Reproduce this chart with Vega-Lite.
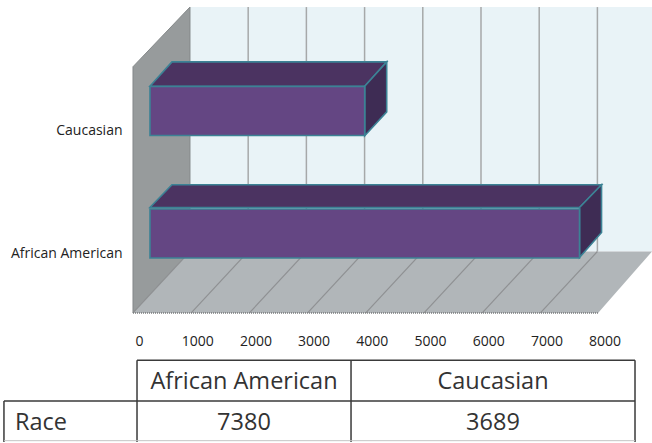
{
  "$schema": "https://vega.github.io/schema/vega-lite/v6.json",
  "width": 652,
  "height": 443,
  "padding": 0,
  "autosize": {"type": "fit", "contains": "padding"},
  "background": "#ffffff",
  "config": {"view": {"stroke": null}, "font": "Open Sans"},
  "datasets": {
    "race": [
      {"race": "Caucasian", "count": 3689},
      {"race": "African American", "count": 7380}
    ],
    "wall": [{"x": 876, "x2": 8814, "h": 43.1, "h2": 98.4}],
    "sideWall": [
      {"x": -103, "h": 29.2, "h2": 84.9},
      {"x": 876, "h": 43.1, "h2": 98.4}
    ],
    "floor": [
      {"h": 29.2, "x": -103, "x2": 7887},
      {"h": 43.1, "x": 876, "x2": 8814}
    ],
    "grid": [
      {"tick": 0, "front": -103, "back": 876, "h": 29.2, "h2": 43.1, "top": 98.4},
      {"tick": 1000, "front": 897, "back": 1876, "h": 29.2, "h2": 43.1, "top": 98.4},
      {"tick": 2000, "front": 1897, "back": 2876, "h": 29.2, "h2": 43.1, "top": 98.4},
      {"tick": 3000, "front": 2897, "back": 3876, "h": 29.2, "h2": 43.1, "top": 98.4},
      {"tick": 4000, "front": 3897, "back": 4876, "h": 29.2, "h2": 43.1, "top": 98.4},
      {"tick": 5000, "front": 4897, "back": 5876, "h": 29.2, "h2": 43.1, "top": 98.4},
      {"tick": 6000, "front": 5897, "back": 6876, "h": 29.2, "h2": 43.1, "top": 98.4},
      {"tick": 7000, "front": 6897, "back": 7876, "h": 29.2, "h2": 43.1, "top": 98.4}
    ],
    "frontEdge": [{"x": -103, "x2": 7887, "h": 29.2}],
    "barTops": [
      {"race": "Caucasian", "h": 80.5, "start": 189, "end": 3878},
      {"race": "Caucasian", "h": 86.0, "start": 567, "end": 4256},
      {"race": "African American", "h": 53.05, "start": 189, "end": 7569},
      {"race": "African American", "h": 58.2, "start": 567, "end": 7947}
    ],
    "barSides": [
      {"race": "Caucasian", "x": 3878, "h": 69.3, "h2": 80.5},
      {"race": "Caucasian", "x": 4256, "h": 74.7, "h2": 86.0},
      {"race": "African American", "x": 7569, "h": 41.76, "h2": 53.05},
      {"race": "African American", "x": 7947, "h": 47.4, "h2": 58.2}
    ],
    "tableLines": [
      {"x": -34, "x2": 8522, "h": 18.5, "h2": 18.5},
      {"x": -2320, "x2": 8522, "h": 9.26, "h2": 9.26},
      {"x": -2320, "x2": -2320, "h": 0, "h2": 9.26},
      {"x": -34, "x2": -34, "h": 0, "h2": 18.5},
      {"x": 3643, "x2": 3643, "h": 0, "h2": 18.5},
      {"x": 8522, "x2": 8522, "h": 0, "h2": 18.5}
    ],
    "tableBottom": [{"x": -2320, "x2": 8522, "h": 0.3}],
    "cells": [
      {"text": "African American", "x": 1804, "h": 13.5},
      {"text": "Caucasian", "x": 6082, "h": 13.5},
      {"text": "Race", "x": -1684, "h": 4.3},
      {"text": "7380", "x": 1804, "h": 4.3},
      {"text": "3689", "x": 6082, "h": 4.3}
    ]
  },
  "layer": [
    {
      "data": {"name": "wall"},
      "mark": {"type": "rect", "color": "#e9f3f7"},
      "encoding": {
        "x": {"field": "x", "type": "quantitative", "axis": null, "scale": {"domain": [-2388, 8814], "nice": false, "zero": false}},
        "x2": {"field": "x2"},
        "y": {"field": "h", "type": "quantitative", "axis": null, "scale": {"domain": [0, 100], "nice": false, "zero": false}},
        "y2": {"field": "h2"}
      }
    },
    {
      "data": {"name": "grid"},
      "transform": [{"filter": "datum.tick > 0"}],
      "mark": {"type": "rule", "color": "#a6a8a9", "strokeWidth": 1.5},
      "encoding": {
        "x": {"field": "back", "type": "quantitative", "axis": null, "scale": {"domain": [-2388, 8814], "nice": false, "zero": false}},
        "y": {"field": "h2", "type": "quantitative", "axis": null, "scale": {"domain": [0, 100], "nice": false, "zero": false}},
        "y2": {"field": "top"}
      }
    },
    {
      "data": {"name": "sideWall"},
      "mark": {"type": "area", "color": "#979b9c", "stroke": "#85898a", "strokeWidth": 1},
      "encoding": {
        "x": {"field": "x", "type": "quantitative", "axis": null, "scale": {"domain": [-2388, 8814], "nice": false, "zero": false}},
        "y": {"field": "h", "type": "quantitative", "axis": null, "scale": {"domain": [0, 100], "nice": false, "zero": false}},
        "y2": {"field": "h2"}
      }
    },
    {
      "data": {"name": "floor"},
      "mark": {"type": "area", "orient": "horizontal", "color": "#b1b6b9"},
      "encoding": {
        "y": {"field": "h", "type": "quantitative", "axis": null, "scale": {"domain": [0, 100], "nice": false, "zero": false}},
        "x": {"field": "x", "type": "quantitative", "axis": null, "scale": {"domain": [-2388, 8814], "nice": false, "zero": false}},
        "x2": {"field": "x2"}
      }
    },
    {
      "data": {"name": "grid"},
      "mark": {"type": "rule", "color": "#8f9193", "strokeWidth": 1.2},
      "encoding": {
        "x": {"field": "front", "type": "quantitative", "axis": null, "scale": {"domain": [-2388, 8814], "nice": false, "zero": false}},
        "x2": {"field": "back"},
        "y": {"field": "h", "type": "quantitative", "axis": null, "scale": {"domain": [0, 100], "nice": false, "zero": false}},
        "y2": {"field": "h2"}
      }
    },
    {
      "data": {"name": "frontEdge"},
      "mark": {"type": "rule", "color": "#77797b", "strokeWidth": 1.5, "strokeDash": [1, 1]},
      "encoding": {
        "x": {"field": "x", "type": "quantitative", "axis": null, "scale": {"domain": [-2388, 8814], "nice": false, "zero": false}},
        "x2": {"field": "x2"},
        "y": {"field": "h", "type": "quantitative", "axis": null, "scale": {"domain": [0, 100], "nice": false, "zero": false}}
      }
    },
    {
      "data": {"name": "barTops"},
      "mark": {"type": "area", "orient": "horizontal", "color": "#4b3361", "stroke": "#3c8295", "strokeWidth": 1.6},
      "encoding": {
        "detail": {"field": "race"},
        "y": {"field": "h", "type": "quantitative", "axis": null, "scale": {"domain": [0, 100], "nice": false, "zero": false}},
        "x": {"field": "start", "type": "quantitative", "axis": null, "scale": {"domain": [-2388, 8814], "nice": false, "zero": false}},
        "x2": {"field": "end"}
      }
    },
    {
      "data": {"name": "barSides"},
      "mark": {"type": "area", "color": "#3e2c54", "stroke": "#3c8295", "strokeWidth": 1.6},
      "encoding": {
        "detail": {"field": "race"},
        "x": {"field": "x", "type": "quantitative", "axis": null, "scale": {"domain": [-2388, 8814], "nice": false, "zero": false}},
        "y": {"field": "h", "type": "quantitative", "axis": null, "scale": {"domain": [0, 100], "nice": false, "zero": false}},
        "y2": {"field": "h2"}
      }
    },
    {
      "data": {"name": "tableLines"},
      "mark": {"type": "rule", "color": "#3a3a3a", "strokeWidth": 1.5},
      "encoding": {
        "x": {"field": "x", "type": "quantitative", "axis": null, "scale": {"domain": [-2388, 8814], "nice": false, "zero": false}},
        "x2": {"field": "x2"},
        "y": {"field": "h", "type": "quantitative", "axis": null, "scale": {"domain": [0, 100], "nice": false, "zero": false}},
        "y2": {"field": "h2"}
      }
    },
    {
      "data": {"name": "tableBottom"},
      "mark": {"type": "rule", "color": "#c4c4c4", "strokeWidth": 1},
      "encoding": {
        "x": {"field": "x", "type": "quantitative", "axis": null, "scale": {"domain": [-2388, 8814], "nice": false, "zero": false}},
        "x2": {"field": "x2"},
        "y": {"field": "h", "type": "quantitative", "axis": null, "scale": {"domain": [0, 100], "nice": false, "zero": false}}
      }
    },
    {
      "data": {"name": "cells"},
      "mark": {"type": "text", "fontSize": 23.5, "color": "#333333", "align": "center", "baseline": "middle"},
      "encoding": {
        "text": {"field": "text"},
        "x": {"field": "x", "type": "quantitative", "axis": null, "scale": {"domain": [-2388, 8814], "nice": false, "zero": false}},
        "y": {"field": "h", "type": "quantitative", "axis": null, "scale": {"domain": [0, 100], "nice": false, "zero": false}}
      }
    },
    {
      "data": {"name": "race"},
      "mark": {"type": "bar", "color": "#644683", "stroke": "#3c8295", "strokeWidth": 1.6, "xOffset": 11, "x2Offset": 11},
      "encoding": {
        "x": {
          "field": "count",
          "type": "quantitative",
          "stack": null,
          "scale": {"domain": [-2388, 8814], "nice": false, "zero": false},
          "axis": {
            "values": [0, 1000, 2000, 3000, 4000, 5000, 6000, 7000, 8000],
            "format": "d",
            "title": null,
            "grid": false,
            "domain": false,
            "ticks": false,
            "labelFont": "Open Sans",
            "labelFontSize": 14,
            "labelColor": "#222222",
            "labelPadding": 0,
            "labelOverlap": false,
            "labelBaseline": "middle",
            "offset": -101
          }
        },
        "x2": {"datum": 0},
        "y": {
          "field": "race",
          "type": "nominal",
          "sort": ["Caucasian", "African American"],
          "scale": {"domain": ["Caucasian", "African American"], "range": [86.5, 258], "paddingInner": 0.6, "paddingOuter": 0},
          "axis": {
            "title": null,
            "grid": false,
            "domain": false,
            "ticks": false,
            "labelFont": "Open Sans",
            "labelFontSize": 14,
            "labelColor": "#222222",
            "labelPadding": 2,
            "labelOffset": 20,
            "labelAngle": 0,
            "offset": -124
          }
        }
      }
    }
  ],
  "resolve": {"scale": {"y": "independent"}, "axis": {"x": "independent"}}
}
